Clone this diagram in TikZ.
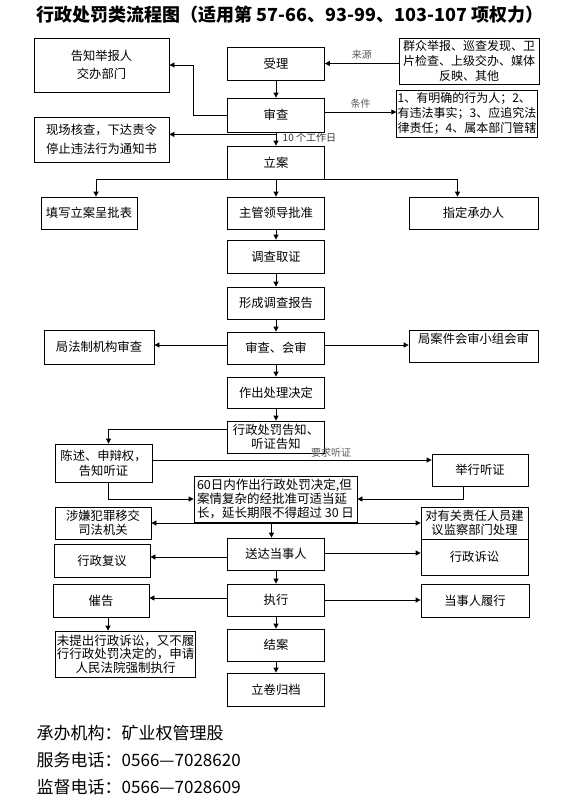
\documentclass[tikz,border=0pt]{standalone}
\usepackage{fontspec}
\setmainfont{Noto Sans CJK SC}
\usetikzlibrary{arrows.meta}

\begin{document}
\begin{tikzpicture}[x=1pt,y=-1pt,>={Triangle[length=5pt,width=5pt]},line width=0.8pt,every node/.style={font=\fontsize{12.3}{15}\selectfont},box/.style={draw,align=center,inner sep=1pt},note/.style={font=\fontsize{10}{11}\selectfont,text=black!65},info/.style={anchor=west,font=\fontsize{17}{19}\selectfont}]
\useasboundingbox (0,0) rectangle (577,804);
\node[anchor=west,font=\fontsize{18}{20}\selectfont\bfseries] (title) at (33,15) {行政处罚类流程图（适用第 57-66、93-99、103-107 项权力）};
% top part
\node[box,minimum width=135,minimum height=54] (gaozhi) at (101.5,65) {告知举报人\\[3pt]交办部门};
\node[box,minimum width=97,minimum height=33] (shouli) at (276,63.5) {受理};
\node[box,minimum width=140,minimum height=46,font=\fontsize{12}{15}\selectfont] (qunzhong) at (469,61) {群众举报、巡查发现、卫\\片检查、上级交办、媒体\\反映、其他};
\node[box,minimum width=97,minimum height=34] (shencha) at (276,115) {审查};
\node[box,align=left,minimum width=140,minimum height=47,font=\fontsize{12}{15}\selectfont] (tiaojian) at (467,113.5) {1、有明确的行为人；2、\\有违法事实；3、应追究法\\律责任；4、属本部门管辖};
\node[box,minimum width=135,minimum height=45] (xianchang) at (101.5,139.5) {现场核查，下达责令\\[4pt]停止违法行为通知书};
\node[box,minimum width=97,minimum height=33] (lian) at (276,162.5) {立案};
\node[box,minimum width=96,minimum height=32] (tianxie) at (89,213) {填写立案呈批表};
\node[box,minimum width=97,minimum height=32] (zhuguan) at (276,213) {主管领导批准};
\node[box,minimum width=129,minimum height=32] (zhiding) at (473.5,213) {指定承办人};
\node[box,minimum width=97,minimum height=33] (diaocha) at (276,256.5) {调查取证};
\node[box,minimum width=97,minimum height=32] (baogao) at (276,303) {形成调查报告};
\node[box,minimum width=97,minimum height=32] (huishen) at (276,348) {审查、会审};
\node[box,minimum width=110,minimum height=34] (fazhi) at (99,347) {局法制机构审查};
\node[box,minimum width=129,minimum height=32] (xiaozu) at (473.5,346) {局案件会审小组会审\\\mbox{}};
\node[box,minimum width=97,minimum height=31] (zuochu) at (276,392.5) {作出处理决定};
% notice and hearing
\node[box,minimum width=97,minimum height=32,font=\fontsize{12.3}{14}\selectfont] (gaozhi2) at (276,437) {行政处罚告知、\\听证告知};
\node[box,minimum width=97,minimum height=38] (chenshu) at (103.5,463) {陈述、申辩权，\\告知听证};
\node[box,minimum width=96,minimum height=32] (juxing) at (480,470) {举行听证};
\node[box,align=left,minimum width=163,minimum height=46,font=\fontsize{12.5}{14}\selectfont] (sixty) at (275.5,499) {60日内作出行政处罚决定,但\\案情复杂的经批准可适当延\\长，延长期限不得超过 30 日};
\node[box,minimum width=96,minimum height=32,font=\fontsize{12.3}{13.5}\selectfont] (shexian) at (103,523) {涉嫌犯罪移交\\司法机关};
\node[box,minimum width=107,minimum height=32,font=\fontsize{12.3}{13.5}\selectfont] (jiancha) at (474.5,523) {对有关责任人员建\\议监察部门处理};
% delivery and execution
\node[box,minimum width=97,minimum height=32] (songda) at (276,554) {送达当事人};
\node[box,minimum width=96,minimum height=33] (fuyi) at (102,560.5) {行政复议};
\node[box,minimum width=107,minimum height=36] (susong) at (474.5,557) {行政诉讼};
\node[box,minimum width=97,minimum height=32] (zhixing) at (276,600) {执行};
\node[box,minimum width=96,minimum height=33] (cuigao) at (101,600.5) {催告};
\node[box,minimum width=108,minimum height=33] (lvxing) at (475,600.5) {当事人履行};
\node[box,minimum width=139,minimum height=46,font=\fontsize{12.5}{13.5}\selectfont] (weitichu) at (125.5,654) {未提出行政诉讼，又不履\\行行政处罚决定的，申请\\人民法院强制执行};
\node[box,minimum width=97,minimum height=32] (jiean) at (276,645) {结案};
\node[box,minimum width=97,minimum height=33] (lijuan) at (276,689.5) {立卷归档};
% connectors
\draw[->] (qunzhong.west |- shouli.east) -- (shouli.east) node[note,midway,above] {来源};
\draw[->] (shouli) -- (shencha);
\draw[->] (shencha.west) -- ++(-34,0) |- (gaozhi.east);
\draw[->] ([yshift=3pt]shencha.east) -- ([yshift=3pt]shencha.east -| tiaojian.west) node[note,midway,above] {条件};
\draw[->] ([yshift=-2pt]shencha.south) -- ([yshift=-2pt]shencha.south -| xianchang.east);
\node[note,anchor=west,text=black!80] (gongzuori) at ([xshift=3pt,yshift=-5pt]shencha.south) {10 个工作日};
\draw[->] (shencha) -- (lian);
\draw[->] (lian) -- (zhuguan);
\draw[->] (lian.south) -| ([xshift=7pt]tianxie.north);
\draw[->] (lian.south) -| ([xshift=-16pt]zhiding.north);
\draw[->] (zhuguan) -- (diaocha);
\draw[->] (diaocha) -- (baogao);
\draw[->] (baogao) -- (huishen);
\draw[->] ([yshift=3pt]huishen.west) -- ([yshift=3pt]huishen.west -| fazhi.east);
\draw[->] ([yshift=3pt]huishen.east) -- ([yshift=3pt]huishen.east -| xiaozu.west);
\draw[->] (huishen) -- (zuochu);
\draw[->] (zuochu) -- (gaozhi2);
\draw[->] ([yshift=8pt]gaozhi2.west) -| ([xshift=5pt]chenshu.north);
\draw[->] ([yshift=3pt]chenshu.east) -- ([yshift=3pt]chenshu.east -| juxing.west) node[note,pos=0.64,above=-1pt] {要求听证};
\draw[->] ([xshift=5pt]chenshu.south) |- (sixty.west);
\draw[->] ([xshift=-17pt]juxing.south) |- (sixty.east);
\draw[<->] (shexian.east) -- (jiancha.west);
\draw[->] ([xshift=-4pt]sixty.south) -- ([xshift=-4pt]sixty.south |- songda.north);
\draw[->] ([yshift=-3pt]songda.west) -- ([yshift=-3pt]songda.west -| fuyi.east);
\draw[->] ([yshift=1pt]songda.east) -- ([yshift=1pt]songda.east -| susong.west);
\draw[->] (songda) -- (zhixing);
\draw[->] ([yshift=2pt]zhixing.west) -- ([yshift=2pt]zhixing.west -| cuigao.east);
\draw[->] (zhixing.east) -- (zhixing.east -| lvxing.west);
\draw[->] ([xshift=7pt]cuigao.south) -- ([xshift=7pt]cuigao.south |- weitichu.north);
\draw[->] (zhixing) -- (jiean);
\draw[->] (jiean) -- (lijuan);
% footer
\node[info] (jigou) at (33,733) {承办机构：矿业权管理股};
\node[info] (fuwu) at (33,760) {服务电话：0566—7028620};
\node[info] (jiandu) at (33,787) {监督电话：0566—7028609};
\end{tikzpicture}
\end{document}
